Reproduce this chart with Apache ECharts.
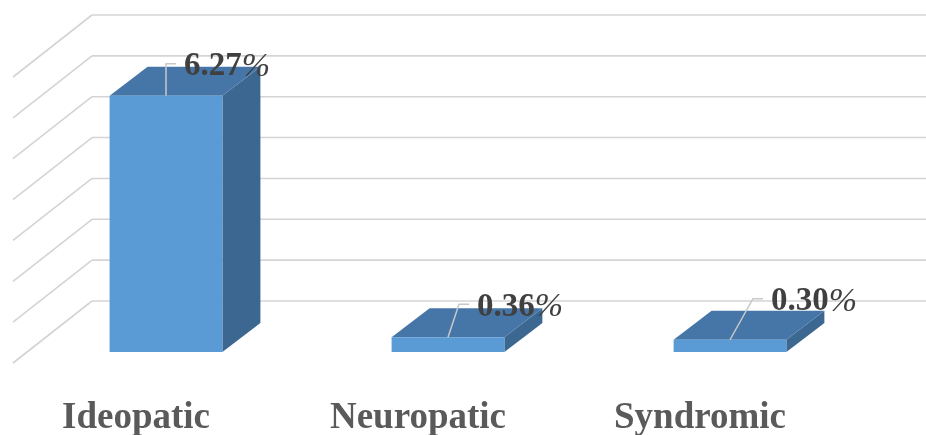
<!DOCTYPE html>
<html>
<head>
<meta charset="utf-8">
<script src="https://cdn.jsdelivr.net/npm/echarts@6/dist/echarts.min.js"></script>
<style>
  html, body { margin: 0; padding: 0; background: #ffffff; }
  #chart { width: 926px; height: 435px; }
</style>
</head>
<body>
<div id="chart"></div>
<script>
// Prevalence by type (percent)
const categories = ['Ideopatic', 'Neuropatic', 'Syndromic'];
const prevalence = [6.27, 0.36, 0.30];
// Back-wall gridline levels (percent)
const gridLevels = [0, 1, 2, 3, 4, 5, 6, 7];

// Oblique 3D projection, in pixels relative to the plot area
const WALL_X = 12;              // back-wall corner, right of the plot's left edge
const WALL_DEPTH = [-79, 62];   // front edge of the floor / side wall
const BAR_FRONT = [-55, 51];    // front face of each column
const BAR_BACK = [-17, 22];     // back face of each column
const BAR_RATIO = 0.4;          // column width as a share of the category band
const CAT_LABEL_SHIFT = [-85, 117];
// Leader-line elbow for each data label, relative to the column's top-front centre
const labelNudge = [[0, -32], [11, -33], [23, -41]];

const FRONT_COLOR = '#5b9bd5';
const TOP_COLOR = '#4676a8';
const SIDE_COLOR = '#3b6791';
const GRID_COLOR = '#d4d4d4';

function renderColumn(params, api) {
  const i = api.value(0);
  const v = api.value(1);
  const base = api.coord([i, 0]);
  const top = api.coord([i, v]);
  const half = api.size([1, 0])[0] * BAR_RATIO / 2;

  const fx = base[0] + BAR_FRONT[0];
  const bx = base[0] + BAR_BACK[0];
  const fyB = base[1] + BAR_FRONT[1];
  const fyT = top[1] + BAR_FRONT[1];
  const byB = base[1] + BAR_BACK[1];
  const byT = top[1] + BAR_BACK[1];

  const nudge = labelNudge[params.dataIndex];
  const ex = fx + nudge[0];
  const ey = fyT + nudge[1];

  return {
    type: 'group',
    children: [
      {
        type: 'polygon',
        shape: { points: [[fx + half, fyT], [fx + half, fyB], [bx + half, byB], [bx + half, byT]] },
        style: { fill: SIDE_COLOR }
      },
      {
        type: 'polygon',
        shape: { points: [[fx - half, fyT], [fx + half, fyT], [bx + half, byT], [bx - half, byT]] },
        style: { fill: TOP_COLOR }
      },
      {
        type: 'rect',
        shape: { x: fx - half, y: fyT, width: half * 2, height: fyB - fyT },
        style: { fill: FRONT_COLOR }
      },
      {
        type: 'polyline',
        shape: { points: [[fx, fyT], [ex, ey], [ex + 10, ey]] },
        style: { stroke: '#c8c8c8', lineWidth: 1.5, fill: null }
      },
      {
        type: 'text',
        x: ex + 18,
        y: ey + 3,
        style: {
          text: '{n|' + v.toFixed(2) + '}{p|%}',
          align: 'left',
          verticalAlign: 'middle',
          rich: {
            n: { fontFamily: 'Liberation Serif', fontWeight: 'bold', fontSize: 33, fill: '#404040' },
            p: { fontFamily: 'Liberation Serif', fontStyle: 'italic', fontWeight: 'normal', fontSize: 34, fill: '#404040' }
          }
        }
      },
      {
        type: 'text',
        x: base[0] + CAT_LABEL_SHIFT[0],
        y: base[1] + CAT_LABEL_SHIFT[1],
        style: {
          text: categories[i],
          align: 'center',
          verticalAlign: 'middle',
          fontFamily: 'Liberation Serif',
          fontWeight: 'bold',
          fontSize: 37,
          fill: '#5a5a5a'
        }
      }
    ]
  };
}

// Back-wall gridline plus its slanted continuation on the side wall
function renderWallLine(params, api) {
  const y = api.coord([0, api.value(0)])[1];
  const cs = params.coordSys;
  const x = cs.x + WALL_X;
  return {
    type: 'group',
    children: [
      {
        type: 'line',
        shape: { x1: x, y1: y, x2: cs.x + cs.width, y2: y },
        style: { stroke: GRID_COLOR, lineWidth: 1.6 }
      },
      {
        type: 'line',
        shape: { x1: x, y1: y, x2: x + WALL_DEPTH[0], y2: y + WALL_DEPTH[1] },
        style: { stroke: GRID_COLOR, lineWidth: 1.6 }
      }
    ]
  };
}

const chart = echarts.init(document.getElementById('chart'), null, { renderer: 'canvas' });
chart.setOption({
  backgroundColor: '#ffffff',
  animation: false,
  grid: { left: 80, right: 0, top: 15, bottom: 134, containLabel: false },
  xAxis: {
    type: 'category',
    data: categories,
    axisLine: { show: false },
    axisTick: { show: false },
    axisLabel: { show: false },
    splitLine: { show: false }
  },
  yAxis: {
    type: 'value',
    min: 0,
    max: 7,
    interval: 1,
    axisLine: { show: false },
    axisTick: { show: false },
    axisLabel: { show: false },
    splitLine: { show: false }
  },
  series: [
    {
      type: 'custom',
      renderItem: renderWallLine,
      data: gridLevels.map(v => [v]),
      encode: { y: 0 },
      silent: true,
      z: 1
    },
    {
      type: 'custom',
      renderItem: renderColumn,
      data: prevalence.map((v, i) => [i, v]),
      encode: { x: 0, y: 1 },
      z: 2
    }
  ]
});
</script>
</body>
</html>
